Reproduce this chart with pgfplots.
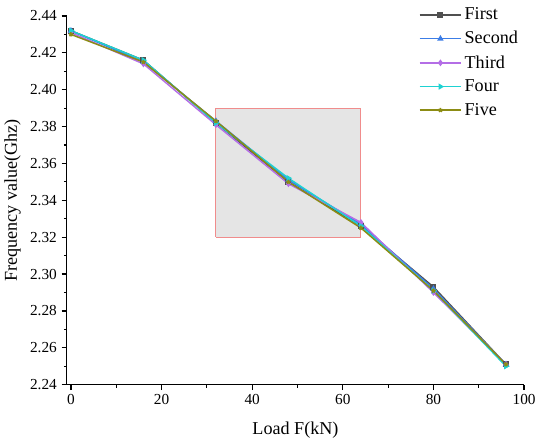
\documentclass[border=0pt]{standalone}
\usepackage{pgfplots}
\pgfplotsset{compat=1.18}
\usepackage{fontspec}
\setmainfont{Liberation Serif}
\definecolor{cFirst}{HTML}{505050}
\definecolor{cSecond}{HTML}{3C7DE6}
\definecolor{cThird}{HTML}{B46EE6}
\definecolor{cFour}{HTML}{1ED2D2}
\definecolor{cFive}{HTML}{8C8C14}
\definecolor{boxred}{HTML}{F08C8C}
\definecolor{boxfill}{HTML}{E5E5E5}
\begin{document}
\begin{tikzpicture}
\begin{axis}[
  scale only axis,
  width=343.5pt, height=277pt,
  xmin=-0.9, xmax=100, ymin=2.24, ymax=2.44,
  axis x line*=bottom, axis y line*=left,
  axis line style={line width=0.9pt, -},
  tick align=outside,
  major tick length=4pt, minor tick length=2.2pt,
  every tick/.style={line width=0.9pt, black},
  xtick={0,20,40,60,80,100},
  ytick={2.24,2.26,2.28,2.30,2.32,2.34,2.36,2.38,2.40,2.42,2.44},
  minor x tick num=1, minor y tick num=1,
  yticklabel style={/pgf/number format/fixed, /pgf/number format/fixed zerofill, /pgf/number format/precision=2},
  /pgf/number format/assume math mode=true,
  tick label style={font=\fontsize{11.5}{13}\selectfont},
  xlabel={Load F(kN)}, ylabel={Frequency value(Ghz)},
  label style={font=\fontsize{13.6}{15}\selectfont},
  xlabel style={yshift=-6pt},
  legend style={draw=none, fill=none, font=\fontsize{13.6}{15}\selectfont,
    at={(rel axis cs:0.993,1.03)}, anchor=north east,
    row sep=3.2pt, inner sep=0pt},
  legend cell align=left,
  legend image code/.code={\draw[mark repeat=2,mark phase=2,line width=1.1pt] plot coordinates {(0cm,0cm) (0.55cm,0cm) (1.1cm,0cm)};},
  every axis plot/.append style={line width=1.1pt, mark size=1.7pt},
]
\addplot[color=boxred, fill=boxfill, line width=0.8pt, forget plot] coordinates {(32,2.32) (64,2.32) (64,2.39) (32,2.39) (32,2.32)};
\addplot[color=cFirst, mark=square*] coordinates {(0,2.432) (16,2.416) (32,2.382) (48,2.350) (64,2.326) (80,2.293) (96,2.251)};
\addlegendentry{First}
\addplot[color=cSecond, mark=triangle*] coordinates {(0,2.432) (16,2.415) (32,2.383) (48,2.351) (64,2.327) (80,2.292) (96,2.251)};
\addlegendentry{Second}
\addplot[color=cThird, mark=diamond*] coordinates {(0,2.431) (16,2.414) (32,2.381) (48,2.349) (64,2.328) (80,2.290) (96,2.251)};
\addlegendentry{Third}
\addplot[color=cFour, mark=triangle*, mark options={rotate=-90}] coordinates {(0,2.432) (16,2.416) (32,2.382) (48,2.352) (64,2.326) (80,2.291) (96,2.250)};
\addlegendentry{Four}
\addplot[color=cFive, mark=star] coordinates {(0,2.430) (16,2.415) (32,2.383) (48,2.350) (64,2.325) (80,2.291) (96,2.251)};
\addlegendentry{Five}
\end{axis}
\path (current axis.south east) ++(10pt,0);
\path (current axis.north west) ++(0,12pt);
\end{tikzpicture}
\end{document}
